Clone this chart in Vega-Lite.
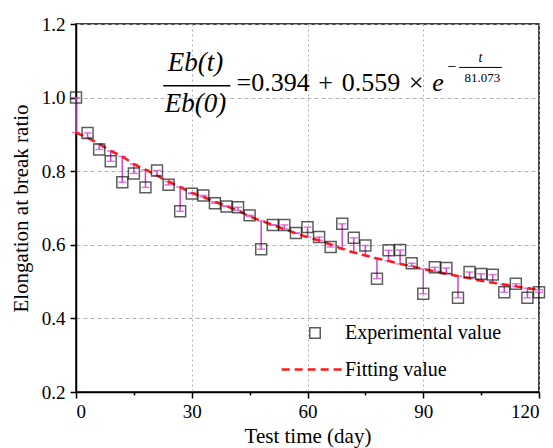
{
  "$schema": "https://vega.github.io/schema/vega-lite/v6.json",
  "width": 463,
  "height": 368,
  "autosize": "none",
  "padding": {"left": 76, "top": 24, "right": 14, "bottom": 56},
  "background": "white",
  "config": {
    "view": {"stroke": "black", "strokeWidth": 1.5},
    "font": "Liberation Serif",
    "axis": {
      "domainColor": "black", "domainWidth": 1.5, "tickColor": "black", "tickWidth": 1.5,
      "labelFont": "Liberation Serif", "labelFontWeight": "normal", "labelFontSize": 19, "labelColor": "black",
      "titleFont": "Liberation Serif", "titleFontWeight": "normal", "titleColor": "black",
      "gridColor": "#b0b0b0", "gridWidth": 1
    },
    "legend": {"labelFont": "Liberation Serif", "labelFontWeight": "normal", "labelFontSize": 20, "labelColor": "black", "padding": 0}
  },
  "datasets": {
    "aging": [
      {"day": 0, "exp": 1.0, "fit": 0.905},
      {"day": 3, "exp": 0.904, "fit": 0.891},
      {"day": 6, "exp": 0.859, "fit": 0.874},
      {"day": 9, "exp": 0.827, "fit": 0.855},
      {"day": 12, "exp": 0.770, "fit": 0.840},
      {"day": 15, "exp": 0.794, "fit": 0.819},
      {"day": 18, "exp": 0.756, "fit": 0.804},
      {"day": 21, "exp": 0.802, "fit": 0.788},
      {"day": 24, "exp": 0.763, "fit": 0.772},
      {"day": 27, "exp": 0.691, "fit": 0.757},
      {"day": 30, "exp": 0.739, "fit": 0.741},
      {"day": 33, "exp": 0.734, "fit": 0.730},
      {"day": 36, "exp": 0.713, "fit": 0.717},
      {"day": 39, "exp": 0.704, "fit": 0.705},
      {"day": 42, "exp": 0.702, "fit": 0.693},
      {"day": 45, "exp": 0.680, "fit": 0.677},
      {"day": 48, "exp": 0.588, "fit": 0.665},
      {"day": 51, "exp": 0.654, "fit": 0.654},
      {"day": 54, "exp": 0.654, "fit": 0.643},
      {"day": 57, "exp": 0.632, "fit": 0.631},
      {"day": 60, "exp": 0.648, "fit": 0.621},
      {"day": 63, "exp": 0.621, "fit": 0.612},
      {"day": 66, "exp": 0.594, "fit": 0.601},
      {"day": 69, "exp": 0.657, "fit": 0.589},
      {"day": 72, "exp": 0.619, "fit": 0.579},
      {"day": 75, "exp": 0.598, "fit": 0.571},
      {"day": 78, "exp": 0.508, "fit": 0.563},
      {"day": 81, "exp": 0.585, "fit": 0.556},
      {"day": 84, "exp": 0.586, "fit": 0.548},
      {"day": 87, "exp": 0.550, "fit": 0.542},
      {"day": 90, "exp": 0.467, "fit": 0.534},
      {"day": 93, "exp": 0.539, "fit": 0.528},
      {"day": 96, "exp": 0.537, "fit": 0.521},
      {"day": 99, "exp": 0.456, "fit": 0.515},
      {"day": 102, "exp": 0.526, "fit": 0.509},
      {"day": 105, "exp": 0.521, "fit": 0.502},
      {"day": 108, "exp": 0.519, "fit": 0.497},
      {"day": 111, "exp": 0.471, "fit": 0.492},
      {"day": 114, "exp": 0.494, "fit": 0.487},
      {"day": 117, "exp": 0.456, "fit": 0.482},
      {"day": 120, "exp": 0.471, "fit": 0.478}
    ],
    "one": [{}]
  },
  "layer": [
    {
      "data": {"name": "aging"},
      "encoding": {
        "x": {"field": "day", "type": "quantitative",
          "scale": {"domain": [0, 120], "nice": false},
          "axis": {"title": "Test time (day)", "titleFontSize": 21, "titlePadding": 4,
            "values": [0, 15, 30, 45, 60, 75, 90, 105, 120],
            "labelExpr": "datum.value % 30 === 0 ? datum.label : ''",
            "tickSize": {"condition": {"test": "datum.value % 30 === 0", "value": 6}, "value": 3},
            "grid": true, "gridDash": [2, 3],
            "gridOpacity": {"condition": {"test": "datum.value % 30 === 0", "value": 1}, "value": 0},
            "labelPadding": 4}}
      },
      "layer": [
        {
          "mark": {"type": "rule", "color": "#cc44cc", "strokeWidth": 1.5},
          "encoding": {
            "y": {"field": "exp", "type": "quantitative",
              "scale": {"domain": [0.2, 1.2], "nice": false, "zero": false},
              "axis": {"title": "Elongation at break ratio", "titleFontSize": 21, "titlePadding": 10,
                "values": [0.2, 0.3, 0.4, 0.5, 0.6, 0.7, 0.8, 0.9, 1.0, 1.1, 1.2],
                "format": ".1f",
                "labelExpr": "round(datum.value * 10) % 2 === 0 ? datum.label : ''",
                "tickSize": {"condition": {"test": "round(datum.value * 10) % 2 === 0", "value": 6}, "value": 3},
                "grid": true, "gridDash": [4, 3],
                "gridOpacity": {"condition": {"test": "round(datum.value * 10) % 2 === 0", "value": 1}, "value": 0},
                "labelPadding": 5}},
            "y2": {"field": "fit"}
          }
        },
        {
          "mark": {"type": "tick", "orient": "horizontal", "color": "#cc44cc", "size": 8, "thickness": 1.5},
          "encoding": {"y": {"field": "fit", "type": "quantitative"}}
        },
        {
          "mark": {"type": "tick", "orient": "horizontal", "color": "#cc44cc", "size": 8, "thickness": 1.5},
          "encoding": {"y": {"field": "exp", "type": "quantitative"}}
        },
        {
          "mark": {"type": "line", "color": "#ff1a1a", "strokeWidth": 2.5},
          "encoding": {
            "y": {"field": "fit", "type": "quantitative"},
            "strokeDash": {"datum": "Fitting value", "scale": {"range": [[8, 5]]},
              "legend": {"title": null, "orient": "none", "legendX": 204, "legendY": 313,
                "symbolSize": 3800, "symbolStrokeWidth": 2.5, "symbolStrokeColor": "#ff1a1a", "labelOffset": 0}}
          }
        },
        {
          "mark": {"type": "point", "filled": false, "color": "#1a1a1a", "strokeWidth": 1.5, "size": 120},
          "encoding": {
            "y": {"field": "exp", "type": "quantitative"},
            "shape": {"datum": "Experimental value", "scale": {"range": ["square"]},
              "legend": {"title": null, "orient": "none", "legendX": 229, "legendY": 299,
                "symbolSize": 110, "symbolStrokeWidth": 1.5, "symbolStrokeColor": "#1a1a1a", "symbolFillColor": "transparent", "labelOffset": 20}}
          }
        }
      ]
    },
    {
      "data": {"name": "one"},
      "layer": [
        {
          "mark": {"type": "text", "font": "Liberation Serif", "fontStyle": "italic", "fontSize": 27, "align": "center", "baseline": "alphabetic", "fill": "black"},
          "encoding": {"x": {"datum": 31}, "y": {"datum": 1.073}, "text": {"value": "Eb(t)"}}
        },
        {
          "mark": {"type": "rule", "color": "black", "strokeWidth": 1.5},
          "encoding": {"x": {"datum": 22.6}, "x2": {"datum": 40}, "y": {"datum": 1.032}}
        },
        {
          "mark": {"type": "text", "font": "Liberation Serif", "fontStyle": "italic", "fontSize": 27, "align": "center", "baseline": "alphabetic", "fill": "black"},
          "encoding": {"x": {"datum": 31}, "y": {"datum": 0.962}, "text": {"value": "Eb(0)"}}
        },
        {
          "mark": {"type": "text", "font": "Liberation Serif", "fontSize": 26, "align": "left", "baseline": "alphabetic", "fill": "black"},
          "encoding": {"x": {"datum": 41.6}, "y": {"datum": 1.019}, "text": {"value": "=0.394\u2004+\u20040.559\u2004×"}}
        },
        {
          "mark": {"type": "text", "font": "Liberation Serif", "fontStyle": "italic", "fontSize": 26, "align": "center", "baseline": "alphabetic", "fill": "black"},
          "encoding": {"x": {"datum": 93.8}, "y": {"datum": 1.019}, "text": {"value": "e"}}
        },
        {
          "mark": {"type": "text", "font": "Liberation Serif", "fontSize": 16, "align": "center", "baseline": "middle", "fill": "black"},
          "encoding": {"x": {"datum": 97.4}, "y": {"datum": 1.083}, "text": {"value": "−"}}
        },
        {
          "mark": {"type": "text", "font": "Liberation Serif", "fontStyle": "italic", "fontSize": 14, "align": "center", "baseline": "alphabetic", "fill": "black"},
          "encoding": {"x": {"datum": 104.8}, "y": {"datum": 1.096}, "text": {"value": "t"}}
        },
        {
          "mark": {"type": "rule", "color": "black", "strokeWidth": 1},
          "encoding": {"x": {"datum": 99.3}, "x2": {"datum": 110.4}, "y": {"datum": 1.082}}
        },
        {
          "mark": {"type": "text", "font": "Liberation Serif", "fontSize": 13, "align": "center", "baseline": "alphabetic", "fill": "black"},
          "encoding": {"x": {"datum": 105.3}, "y": {"datum": 1.043}, "text": {"value": "81.073"}}
        }
      ]
    }
  ]
}
